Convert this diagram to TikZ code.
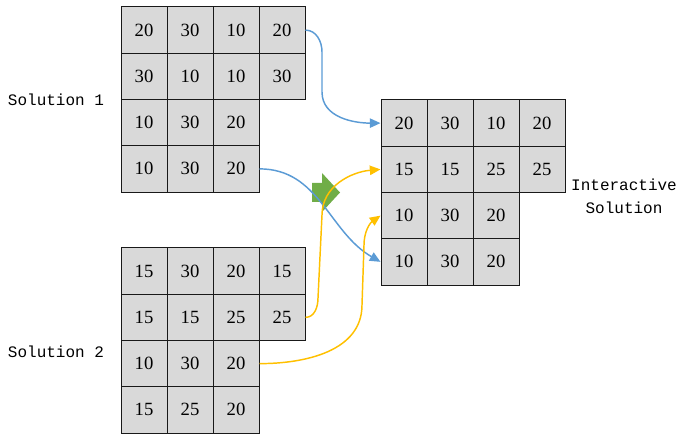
\documentclass[tikz,border=0pt]{standalone}
\usepackage{fontspec}
\newfontfamily\numfont{Liberation Serif}
\newfontfamily\labfont{Liberation Mono}
\usetikzlibrary{arrows.meta}
\definecolor{cellgray}{HTML}{D9D9D9}
\definecolor{lblue}{HTML}{5B9BD5}
\definecolor{lyellow}{HTML}{FFC000}
\definecolor{lgreen}{HTML}{70AD47}
\newcommand\gridrow[5]{%
  \foreach \v [count=\c] in {#5} {%
    \node[cell] (#1-#2-\c) at ({#3+(\c-0.5)*46}, {-(#4+(#2-0.5)*46.25)}) {\v};}}
\begin{document}
\begin{tikzpicture}[x=0.75pt,y=0.75pt,
  cell/.style={draw=black!90, fill=cellgray, line width=0.75pt, minimum width=34.5pt,
    minimum height=34.7pt, inner sep=0pt, font=\numfont\fontsize{14}{16}\selectfont},
  lab/.style={font=\labfont\fontsize{12}{17}\selectfont, align=center, inner sep=0pt},
  bluec/.style={line width=1.1pt, draw=lblue, -{Triangle[length=8pt,width=7pt,fill=lblue]}},
  yelc/.style={line width=1.1pt, draw=lyellow, -{Triangle[length=8pt,width=7pt,fill=lyellow]}}]
\useasboundingbox (0,0) rectangle (677,-434);
% Solution 1
\gridrow{a}{1}{121}{7}{20,30,10,20}
\gridrow{a}{2}{121}{7}{30,10,10,30}
\gridrow{a}{3}{121}{7}{10,30,20}
\gridrow{a}{4}{121}{7}{10,30,20}
% Solution 2
\gridrow{b}{1}{121}{248}{15,30,20,15}
\gridrow{b}{2}{121}{248}{15,15,25,25}
\gridrow{b}{3}{121}{248}{10,30,20}
\gridrow{b}{4}{121}{248}{15,25,20}
% Interactive
\gridrow{c}{1}{381}{100}{20,30,10,20}
\gridrow{c}{2}{381}{100}{15,15,25,25}
\gridrow{c}{3}{381}{100}{10,30,20}
\gridrow{c}{4}{381}{100}{10,30,20}
% labels
\node[lab] (l1) at (56,-100) {Solution 1};
\node[lab] (l2) at (56,-352) {Solution 2};
\node[lab] (l3) at (624,-196) {Interactive\\Solution};
% green block arrow
\fill[lgreen] (312,-183) -- (322,-183) -- (322,-173) -- (340,-192.5) -- (322,-212)
  -- (322,-202) -- (312,-202) -- cycle;
% connectors
\coordinate (m1a) at (322,-52);
\coordinate (m1b) at (322,-92);
\coordinate (m3a) at (318,-298);
\coordinate (m3b) at (322,-215);
\coordinate (m4a) at (362,-305);
\coordinate (m4b) at (364,-245);
\draw[bluec] (a-1-4.east) to[out=0,in=90] (m1a) -- (m1b) to[out=-90,in=180] (c-1-1.west);
\draw[bluec] (a-4-3.east) to[out=0,in=150] (c-4-1.west);
\draw[yelc] (b-2-4.east) to[out=0,in=-90] (m3a) -- (m3b) to[out=90,in=185] (c-2-1.west);
\draw[yelc] (b-3-3.east) to[out=0,in=-90] (m4a) -- (m4b) to[out=90,in=215] (c-3-1.west);
\end{tikzpicture}
\end{document}
